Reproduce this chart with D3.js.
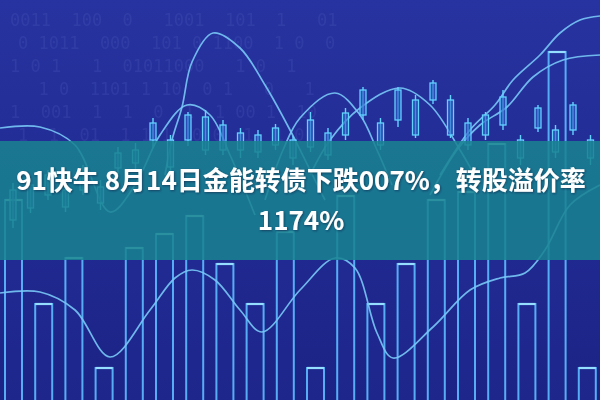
<!DOCTYPE html>
<html><head><meta charset="utf-8">
<script src="https://cdn.jsdelivr.net/npm/d3@7"></script>
<style>html,body{margin:0;padding:0;background:#1f2890;}svg{display:block;}</style>
</head><body>
<svg id="c" width="600" height="400"></svg>
<script>
// ---- data ----
const titleLines = ["91快牛 8月14日金能转债下跌007%，转股溢价率", "1174%"];
const barCats = d3.range(20);
const barValues = [50, 24, 35.5, 8, 38, 41.5, 46, 34, 24, 42, 8, 51, 24, 34, 50, 52, 64, 24, 87, 8];
const candleCats = d3.range(34);
const candleHigh  = [217,220,230,215,235,220,253,257,282,265,288,290,280,272,270,276,264,288,272,292,313,282,313,305,320,305,282,288,310,265,295,275,298,265];
const candleOpen  = [210,192,225,193,230,197,247,237,277,233,285,250,275,250,265,255,260,253,267,265,310,255,310,265,317,265,277,265,303,242,292,248,295,242];
const candleClose = [180,215,205,210,210,213,232,250,260,260,260,283,250,267,248,272,242,280,245,287,285,277,280,300,300,300,255,285,275,260,272,270,270,260];
const candleLow   = [172,187,200,188,205,190,225,230,252,228,254,245,245,242,242,250,235,248,240,260,280,250,273,262,296,262,250,260,270,235,268,242,265,235];
const curveBottom = [[0,107],[40,108],[75,90],[110,43],[150,90],[175,122],[192,130],[215,120],[240,90],[262,68],[300,110],[335,142],[355,132],[377,67],[393,42],[433,73],[470,110],[500,122],[525,127],[545,150],[570,195],[600,215]];
const curveA = [[0,272],[40,273],[75,255],[110,188],[135,215],[160,265],[187,295],[210,285],[230,245],[255,185]];
const curveB = [[165,225],[172,260],[182,293],[192,338],[213,367],[240,352],[265,315],[290,270],[310,230],[325,200]];
const curveC = [[265,200],[283,250],[300,282],[335,307],[360,285],[377,250],[392,215]];
const curveD = [[310,225],[330,260],[360,292],[400,312],[430,295],[460,250],[480,215]];
const curveE = [[430,205],[457,250],[480,275],[507,293],[533,323],[563,340],[600,345]];
const curveF = [[440,225],[470,270],[495,295],[513,320],[540,345],[560,367],[580,380],[600,384]];
const digitRows = ["0011  100  0   1001  101  1   01", "0 1011  000  101 0 1100  1 0  0", "1 0 1   1  01011000   1 0  1", "  1 0  1101 1 10  0 1   0   1", "1  001  1  1  0  1  1 00 1  10", "1  1  01  1 1 1  0 0  1  1 0"];

// ---- scales ----
const W = 600, H = 400;
const svg = d3.select("#c");
const xBar = d3.scaleBand().domain(barCats).range([5, 595.8]).paddingInner(0.437).paddingOuter(0);
const yBar = d3.scaleLinear().domain([0, 100]).range([H, 0]);
const xCandle = d3.scalePoint().domain(candleCats).range([13, 590.5]);
const yPrice = d3.scaleLinear().domain([0, 400]).range([H, 0]);
const xT = d3.scaleLinear().domain([0, 600]).range([0, W]);

// ---- background ----
const defs = svg.append("defs");
const g = defs.append("linearGradient").attr("id","bg").attr("x1",0).attr("y1",0).attr("x2",0).attr("y2",1);
g.append("stop").attr("offset","0%").attr("stop-color","#2733a0");
g.append("stop").attr("offset","100%").attr("stop-color","#1c2386");
const sh = defs.append("filter").attr("id","sh").attr("x","-10%").attr("y","-30%").attr("width","120%").attr("height","160%");
sh.append("feDropShadow").attr("dx",0.8).attr("dy",1).attr("stdDeviation",1.2).attr("flood-color","#0a1a40").attr("flood-opacity",0.6);

svg.append("rect").attr("width",W).attr("height",H).attr("fill","url(#bg)");

// faint binary digits
svg.append("g").selectAll("text").data(digitRows).join("text")
  .attr("x", (d,i)=> 10 + (i%2)*8)
  .attr("y", (d,i)=> 26 + i*23)
  .attr("font-family","DejaVu Sans Mono, monospace")
  .attr("font-size",17)
  .attr("fill","#6b78d0")
  .attr("opacity",0.16)
  .attr("xml:space","preserve")
  .style("white-space","pre")
  .text(d=>d);

// ---- bars ----
const bars = svg.append("g");
bars.selectAll("rect").data(barCats).join("rect")
  .attr("x", i=>xBar(i))
  .attr("y", i=>yBar(barValues[i]))
  .attr("width", xBar.bandwidth())
  .attr("height", i=>yBar(0)-yBar(barValues[i]) + 4)
  .attr("fill","#24309a").attr("fill-opacity",0.25)
  .attr("stroke","#55aef5").attr("stroke-width",2);
bars.selectAll("line").data(barCats).join("line")
  .attr("x1", i=>xBar(i)).attr("x2", i=>xBar(i)+xBar.bandwidth())
  .attr("y1", i=>yBar(barValues[i])).attr("y2", i=>yBar(barValues[i]))
  .attr("stroke","#95deff").attr("stroke-width",2.2);

// ---- curves ----
const line = d3.line().x(d=>xT(d[0])).y(d=>yPrice(d[1])).curve(d3.curveCatmullRom.alpha(0.5));
svg.append("g").selectAll("path").data([curveBottom, curveA, curveB, curveC, curveD, curveE, curveF]).join("path")
  .attr("d", line).attr("fill","none")
  .attr("stroke","#78c8f6").attr("stroke-width",1.7).attr("stroke-opacity",0.9);

// ---- candles ----
const cg = svg.append("g");
cg.selectAll("line").data(candleCats).join("line")
  .attr("x1", i=>xCandle(i)).attr("x2", i=>xCandle(i))
  .attr("y1", i=>yPrice(candleHigh[i])).attr("y2", i=>yPrice(candleLow[i]))
  .attr("stroke","#62d2ff").attr("stroke-width",1.4);
cg.selectAll("rect").data(candleCats).join("rect")
  .attr("x", i=>xCandle(i)-3)
  .attr("y", i=>yPrice(Math.max(candleOpen[i],candleClose[i])))
  .attr("width",6)
  .attr("height", i=>Math.abs(yPrice(candleOpen[i])-yPrice(candleClose[i])))
  .attr("fill","#2f63c8").attr("fill-opacity",0.6)
  .attr("stroke","#62d2ff").attr("stroke-width",1.3);

// ---- title band ----
svg.append("rect").attr("x",0).attr("y",141).attr("width",W).attr("height",119)
  .attr("fill","#198290").attr("fill-opacity",0.86);

const tg = svg.append("g").attr("filter","url(#sh)");
tg.selectAll("text").data(titleLines).join("text")
  .attr("x", 301)
  .attr("y", (d,i)=> 190 + i*40)
  .attr("text-anchor","middle")
  .attr("font-family","'Noto Sans CJK SC', 'Noto Sans', sans-serif")
  .attr("font-weight","bold")
  .attr("font-size",26)
  .attr("fill","#ffffff")
  .text(d=>d);
</script>
</body></html>
